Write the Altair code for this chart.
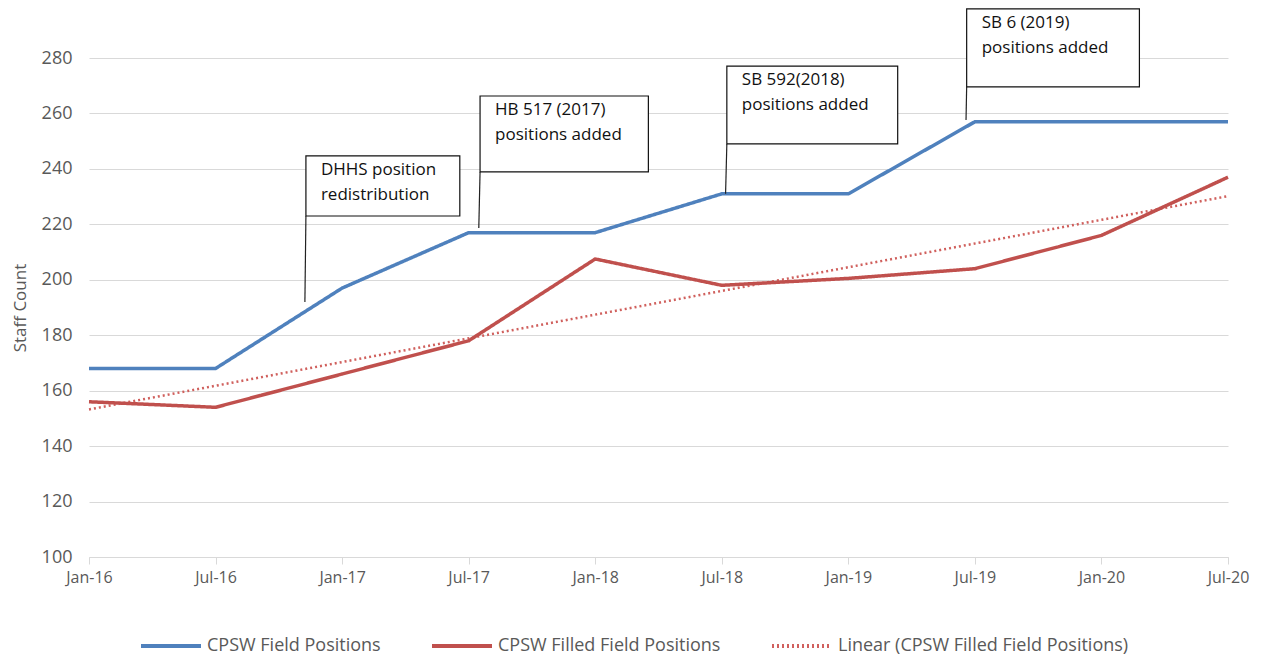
import altair as alt
import pandas as pd

# ---- data ----
months = ["Jan-16", "Jul-16", "Jan-17", "Jul-17", "Jan-18",
          "Jul-18", "Jan-19", "Jul-19", "Jan-20", "Jul-20"]
field_positions = [168, 168, 197, 217, 217, 231, 231, 257, 257, 257]
filled_positions = [156, 154, 166, 178, 207.5, 198, 200.5, 204, 216, 237]

series_names = ["CPSW Field Positions", "CPSW Filled Field Positions",
                "Linear (CPSW Filled Field Positions)"]
series_colors = ["#4f81bd", "#c0504d", "#d0605d"]
series_dash = [[1, 0], [1, 0], [2, 3]]

# annotation callouts (in data units: x = month index, y = staff count)
ann_text = ["DHHS position\nredistribution", "HB 517 (2017)\npositions added",
            "SB 592(2018)\npositions added", "SB 6 (2019)\npositions added"]
ann_x0 = [1.714, 3.09, 5.04, 6.935]
ann_x1 = [2.93, 4.42, 6.39, 8.30]
ann_ytop = [244.7, 266.3, 277.1, 297.7]
ann_ybot = [223.0, 238.9, 249.0, 269.6]
lead_x = [1.706, 3.08, 5.03, 6.93]
lead_y = [192.0, 218.7, 231.0, 257.6]

# ---- tables ----
idx = list(range(len(months)))
lines_df = pd.DataFrame({
    "idx": idx * 2,
    "month": months * 2,
    "series": [series_names[0]] * len(months) + [series_names[1]] * len(months),
    "value": field_positions + filled_positions,
})
filled_df = pd.DataFrame({"idx": idx, "value": filled_positions})
ann_df = pd.DataFrame({
    "text": ann_text, "x0": ann_x0, "x1": ann_x1,
    "ytop": ann_ytop, "ybot": ann_ybot, "lx": lead_x, "ly": lead_y,
})

label_expr = "[" + ",".join("'%s'" % m for m in months) + "][datum.value]"

grey = "#595959"
font = "Open Sans"

x_enc = alt.X("idx:Q",
              scale=alt.Scale(domain=[0, len(months) - 1], nice=False, zero=False),
              axis=alt.Axis(values=idx, labelExpr=label_expr, title=None, grid=False,
                            domain=True, domainColor="#d9d9d9", ticks=True,
                            tickColor="#d9d9d9", tickSize=7, labelPadding=5,
                            labelFlush=False, labelOverlap=False,
                            labelFontSize=16, labelColor=grey, labelFont=font))
y_enc = alt.Y("value:Q",
              scale=alt.Scale(domain=[100, 280], nice=False, zero=False),
              axis=alt.Axis(values=list(range(100, 281, 20)), title="Staff Count",
                            titleFontSize=17, titleFontWeight="normal", titleColor=grey,
                            titleFont=font, titlePadding=12,
                            grid=True, gridColor="#d9d9d9", domain=False, ticks=False,
                            labelPadding=17, labelFontSize=18, labelColor=grey,
                            labelFont=font))

legend = alt.Legend(orient="none", legendX=50, legendY=556, direction="horizontal",
                    title=None, symbolType="stroke", symbolSize=3600,
                    symbolStrokeWidth=4, labelFontSize=18, labelColor=grey,
                    labelFont=font, labelOffset=4, columnPadding=43,
                    labelLimit=400)

color_enc = alt.Color("series:N",
                      scale=alt.Scale(domain=series_names, range=series_colors),
                      legend=legend)
dash_enc = alt.StrokeDash("series:N",
                          scale=alt.Scale(domain=series_names, range=series_dash),
                          legend=legend)

lines = alt.Chart(lines_df).mark_line(strokeWidth=3.5).encode(
    x=x_enc, y=y_enc, color=color_enc, strokeDash=dash_enc)

trend = alt.Chart(filled_df).transform_regression(
    "idx", "value", method="linear"
).transform_calculate(
    series="'" + series_names[2] + "'"
).mark_line(strokeWidth=2.5).encode(
    x="idx:Q", y="value:Q", color=color_enc, strokeDash=dash_enc)

leaders = alt.Chart(ann_df).mark_rule(color="#222222", strokeWidth=1.2).encode(
    x="x0:Q", x2="lx:Q", y="ybot:Q", y2="ly:Q")

boxes = alt.Chart(ann_df).mark_rect(fill="white", stroke="#111111",
                                    strokeWidth=1.2).encode(
    x="x0:Q", x2="x1:Q", y="ytop:Q", y2="ybot:Q")

texts = alt.Chart(ann_df).mark_text(align="left", baseline="top", dx=15, dy=6,
                                    fontSize=17, font=font, color="#111111",
                                    lineBreak="\n", lineHeight=25).encode(
    x="x0:Q", y="ytop:Q", text="text:N")

chart = alt.layer(trend, lines, leaders, boxes, texts).properties(
    width=1139, height=499,
    padding={"left": 81, "top": 50, "right": 25, "bottom": 99},
    autosize=alt.AutoSizeParams(type="none"),
    background="white",
).configure_view(strokeWidth=0, stroke="transparent")

chart.save("out.html", embed_options={"renderer": "svg", "actions": False})
